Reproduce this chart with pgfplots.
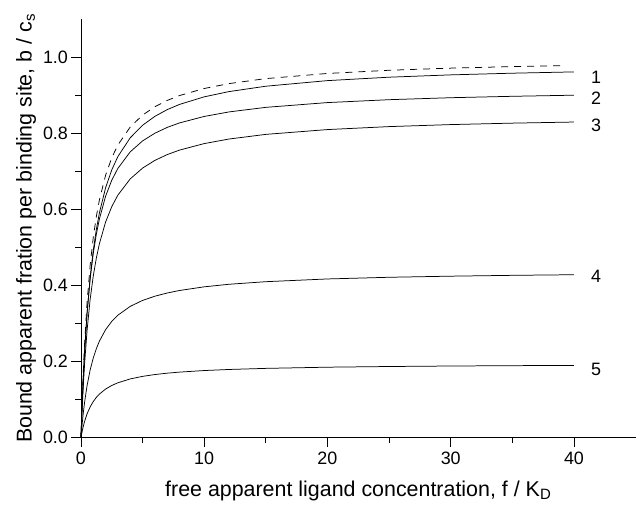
\documentclass[border=0pt]{standalone}
\usepackage{pgfplots}
\pgfplotsset{compat=1.18}
\usepackage{fontspec}
\setmainfont{Liberation Sans}
\begin{document}
\begin{tikzpicture}
\begin{axis}[
  scale only axis,
  width=555bp, height=419bp,
  xmin=0, xmax=45, ymin=0, ymax=1.1,
  axis lines*=left,
  axis line style={line width=0.8pt},
  xtick={0,10,20,30,40},
  minor xtick={5,15,25,35},
  ytick={0,0.2,0.4,0.6,0.8,1.0},
  minor ytick={0.1,0.3,0.5,0.7,0.9},
  tick align=outside,
  major tick length=9.5bp,
  minor tick length=5.5bp,
  every tick/.style={black, line width=0.8pt},
  /pgf/number format/assume math mode=true,
  yticklabel style={/pgf/number format/.cd, fixed, fixed zerofill, precision=1},
  ticklabel style={font=\fontsize{18}{21}\selectfont},
  xticklabel style={yshift=-1bp},
  label style={font=\fontsize{21.5}{24}\selectfont},
  xlabel={free apparent ligand concentration, f / K\textsubscript{D}},
  ylabel={Bound apparent fration per binding site, b / c\textsubscript{s}},
  xlabel style={yshift=-10bp},
  ylabel style={yshift=0bp},
  clip=false,
]
\addplot[black, line width=0.75pt, dash pattern=on 7bp off 6bp] coordinates {
(0,0) (0.1,0.1) (0.2,0.1818) (0.3,0.25) (0.5,0.3571) (0.75,0.4545) (1,0.5263) (1.25,0.5814) (1.5,0.625) (2,0.6897) (2.5,0.7353) (3,0.7692) (4,0.8163) (5,0.8475) (6,0.8696) (7,0.8861) (8,0.8989) (10,0.9174) (12,0.9302) (15,0.9434) (20,0.9569) (25,0.9653) (30,0.9709) (35,0.9749) (39,0.9774)};
\addplot[black, line width=0.75pt] coordinates {
(0,0) (0.1,0.0895) (0.2,0.1642) (0.3,0.2273) (0.5,0.3283) (0.75,0.4221) (1,0.4925) (1.25,0.5472) (1.5,0.591) (2,0.6567) (2.5,0.7036) (3,0.7388) (4,0.788) (5,0.8208) (6,0.8443) (7,0.8619) (8,0.8756) (10,0.8955) (12,0.9092) (15,0.9234) (20,0.9381) (25,0.9471) (30,0.9532) (35,0.9576) (40,0.961)};
\addplot[black, line width=0.75pt] coordinates {
(0,0) (0.1,0.092) (0.2,0.1673) (0.3,0.23) (0.5,0.3286) (0.75,0.4182) (1,0.4842) (1.25,0.5349) (1.5,0.575) (2,0.6345) (2.5,0.6765) (3,0.7077) (4,0.751) (5,0.7797) (6,0.8) (7,0.8152) (8,0.827) (10,0.844) (12,0.8558) (15,0.8679) (20,0.8804) (25,0.888) (30,0.8932) (35,0.8969) (40,0.8998)};
\addplot[black, line width=0.75pt] coordinates {
(0,0) (0.1,0.0773) (0.2,0.1417) (0.3,0.1962) (0.5,0.2833) (0.75,0.3643) (1,0.425) (1.25,0.4722) (1.5,0.51) (2,0.5667) (2.5,0.6071) (3,0.6375) (4,0.68) (5,0.7083) (6,0.7286) (7,0.7438) (8,0.7556) (10,0.7727) (12,0.7846) (15,0.7969) (20,0.8095) (25,0.8173) (30,0.8226) (35,0.8264) (40,0.8293)};
\addplot[black, line width=0.75pt] coordinates {
(0,0) (0.1,0.0367) (0.2,0.0677) (0.3,0.0943) (0.5,0.1375) (0.75,0.1784) (1,0.2095) (1.25,0.234) (1.5,0.2538) (2,0.2839) (2.5,0.3056) (3,0.322) (4,0.3451) (5,0.3607) (6,0.3718) (7,0.3802) (8,0.3868) (10,0.3964) (12,0.4031) (15,0.4099) (20,0.4171) (25,0.4215) (30,0.4244) (35,0.4266) (40,0.4282)};
\addplot[black, line width=0.75pt] coordinates {
(0,0) (0.1,0.017) (0.2,0.0312) (0.3,0.0433) (0.5,0.0629) (0.75,0.0813) (1,0.0951) (1.25,0.106) (1.5,0.1147) (2,0.1279) (2.5,0.1373) (3,0.1444) (4,0.1545) (5,0.1612) (6,0.166) (7,0.1696) (8,0.1724) (10,0.1765) (12,0.1793) (15,0.1822) (20,0.1853) (25,0.1871) (30,0.1884) (35,0.1893) (40,0.19)};
\node[font=\fontsize{18}{21}\selectfont] at (axis cs:41.8,0.947) {1};
\node[font=\fontsize{18}{21}\selectfont] at (axis cs:41.8,0.892) {2};
\node[font=\fontsize{18}{21}\selectfont] at (axis cs:41.8,0.821) {3};
\node[font=\fontsize{18}{21}\selectfont] at (axis cs:41.8,0.424) {4};
\node[font=\fontsize{18}{21}\selectfont] at (axis cs:41.8,0.179) {5};
\coordinate (ll) at (rel axis cs:0,0);
\coordinate (ur) at (rel axis cs:1,1);
\end{axis}
\path ([shift={(-81bp,-73bp)}]ll) rectangle ([shift={(0bp,19bp)}]ur);
\end{tikzpicture}
\end{document}
